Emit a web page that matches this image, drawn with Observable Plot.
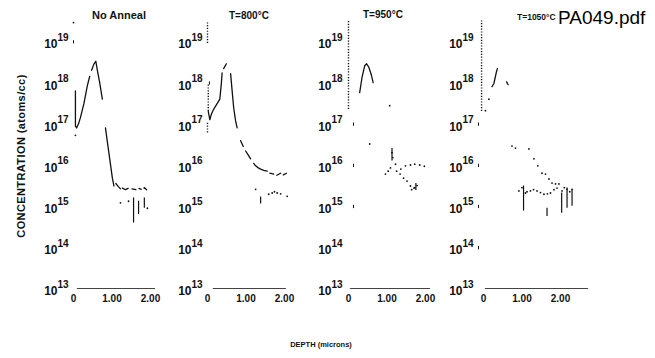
<!DOCTYPE html>
<html><head><meta charset="utf-8">
<script src="https://cdn.jsdelivr.net/npm/d3@7"></script>
<script src="https://cdn.jsdelivr.net/npm/@observablehq/plot@0.6"></script>
<style>
body{margin:0;background:#fff;}
#wrap{position:relative;width:655px;height:358px;overflow:hidden;font-family:"Liberation Sans",Arial,sans-serif;background:#fff;}
.lbl{position:absolute;font-weight:bold;color:#111;white-space:nowrap;line-height:1;}
</style></head><body><div id="wrap"></div>
<script>
// ---------- data ----------
const panelTitles = ["No Anneal", "T=800\u00b0C", "T=950\u00b0C", "T=1050\u00b0C"];
const decades = [13, 14, 15, 16, 17, 18, 19];
const xTickValues = [0, 1, 2];
const xTickLabels = ["0", "1.00", "2.00"];
const yAxisTitle = "CONCENTRATION (atoms/cc)";
const xAxisTitle = "DEPTH (microns)";
const fileLabel = "PA049.pdf";

// Panel 1: No Anneal  (depth in microns, log10 concentration)
const p1LineDepth = [0.05,0.05,0.08,0.13,0.18,0.27,0.36,0.42,null,0.47,0.53,0.58,0.62,0.68,0.75,null,0.83,0.92,1.01,1.05,null,1.10,1.16,1.22,null,1.27,1.35,1.42,null,1.52,1.62,null,1.70,1.76,null,1.84,1.90];
const p1LineLog   = [17.8,16.95,16.9,17.0,17.15,17.49,17.93,18.15,null,18.3,18.45,18.52,18.3,18.0,17.6,null,16.9,16.29,15.68,15.49,null,15.55,15.48,15.42,null,15.44,15.40,15.43,null,15.42,15.40,null,15.43,15.41,null,15.45,15.40];
const p1DotDepth = [0.0, 0.05, 1.22, 1.43, 1.92, 1.84];
const p1DotLog   = [19.46, 16.72, 15.08, 15.12, 14.95, 15.44];
const p1SpikeDepth = [1.56, 1.69, 1.84];
const p1SpikeLo    = [14.59, 14.8, 14.95];
const p1SpikeHi    = [15.2, 15.12, 15.2];
const p1SurfDepth = [], p1SurfLo = [], p1SurfHi = [];
const p1TickMarks = [19];

// Panel 2: T=800°C
const p2SurfDepth = [0, 0.02, 0];
const p2SurfLo    = [18.95, 17.3, 16.78];
const p2SurfHi    = [19.45, 17.98, 17.02];
const p2LineDepth = [0.02,0.06,0.09,0.13,0.17,0.25,0.32,0.36,0.38,null,0.42,0.49,null,0.60,0.64,0.68,0.73,0.77,null,0.86,0.93,null,0.99,1.06,1.12,null,1.20,1.25,1.32,1.38,1.46,1.55,null,1.62,1.72,null,1.80,1.90,null,1.97,2.05];
const p2LineLog   = [17.3,17.1,17.2,17.3,17.37,17.49,17.6,17.98,18.24,null,18.34,18.46,null,18.22,17.8,17.39,17.07,16.9,null,16.59,16.45,null,16.34,16.24,16.15,null,16.04,15.98,15.93,15.9,15.87,15.85,null,15.8,15.78,null,15.75,15.8,null,15.76,15.8];
const p2DotDepth = [1.25, 1.59, 1.68, 1.74, 1.81, 1.90, 2.07];
const p2DotLog   = [15.41, 15.29, 15.32, 15.35, 15.32, 15.30, 15.24];
const p2SpikeDepth = [1.38];
const p2SpikeLo    = [15.05];
const p2SpikeHi    = [15.22];
const p2TickMarks = [18];

// Panel 3: T=950°C
const p3SurfDepth = [0];
const p3SurfLo    = [17.35];
const p3SurfHi    = [19.5];
const p3LineDepth = [0.29, 0.35, 0.42, 0.47, 0.53, 0.59, 0.64];
const p3LineLog   = [17.76, 18.12, 18.41, 18.46, 18.37, 18.2, 18.0];
const p3DotDepth = [1.07,0.55,1.13,1.15,1.22,1.09,0.96,1.03,1.25,1.34,1.43,1.52,1.61,1.70,1.48,1.61,1.72,1.85,1.97,1.64,1.72,1.78,1.36];
const p3DotLog   = [17.44,16.51,16.3,16.18,16.02,15.93,15.78,15.85,15.85,15.78,15.68,15.61,15.49,15.44,15.98,16.0,16.02,16.0,15.97,15.4,15.45,15.5,15.9];
const p3SpikeDepth = [1.13, 1.75];
const p3SpikeLo    = [16.1, 15.38];
const p3SpikeHi    = [16.4, 15.55];
const p3TickMarks = [17, 16, 15];

// Panel 4: T=1050°C
const p4SurfDepth = [-0.05];
const p4SurfLo    = [17.3];
const p4SurfHi    = [19.5];
const p4LineDepth = [0.22, 0.27, 0.33, 0.36, null, 0.60, 0.64];
const p4LineLog   = [17.9, 17.98, 18.24, 18.34, null, 18.02, 17.95];
const p4DotDepth = [0.05,0.14,0.74,0.83,1.18,1.31,1.41,1.52,1.61,1.70,1.78,1.87,1.96,0.92,1.09,1.22,1.39,1.57,1.74,1.91,2.04,2.17,2.30,1.0,1.13,1.30,1.48,1.66,1.83,2.1,2.24];
const p4DotLog   = [17.32,17.6,16.46,16.41,16.39,16.15,15.98,15.8,15.78,15.66,15.56,15.54,15.54,15.37,15.32,15.37,15.37,15.29,15.32,15.44,15.37,15.41,15.41,15.45,15.35,15.4,15.33,15.3,15.4,15.45,15.35];
const p4SpikeDepth = [1.04, 1.65, 2.03, 2.17, 2.30];
const p4SpikeLo    = [14.88, 14.75, 14.83, 14.95, 15.0];
const p4SpikeHi    = [15.49, 14.95, 15.32, 15.44, 15.4];
const p4TickMarks = [17, 16, 15, 14];

// ---------- layout ----------
const PX = 38.5;             // pixels per micron
const ML = 45;
const ink = "#111";
const panels = [
  {origin: 73,  xMax: 2.3, base: [0.10, 2.13], tickX: 0.0,  lineD: p1LineDepth, lineL: p1LineLog, dotD: p1DotDepth, dotL: p1DotLog, spD: p1SpikeDepth, spLo: p1SpikeLo, spHi: p1SpikeHi, sfD: p1SurfDepth, sfLo: p1SurfLo, sfHi: p1SurfHi, marks: p1TickMarks, shift: 0},
  {origin: 207, xMax: 2.3, base: [0.15, 2.05], tickX: 0.05, lineD: p2LineDepth, lineL: p2LineLog, dotD: p2DotDepth, dotL: p2DotLog, spD: p2SpikeDepth, spLo: p2SpikeLo, spHi: p2SpikeHi, sfD: p2SurfDepth, sfLo: p2SurfLo, sfHi: p2SurfHi, marks: p2TickMarks, shift: 0},
  {origin: 348, xMax: 2.3, base: [0.05, 2.13], tickX: 0.13, lineD: p3LineDepth, lineL: p3LineLog, dotD: p3DotDepth, dotL: p3DotLog, spD: p3SpikeDepth, spLo: p3SpikeLo, spHi: p3SpikeHi, sfD: p3SurfDepth, sfLo: p3SurfLo, sfHi: p3SurfHi, marks: p3TickMarks, shift: -1},
  {origin: 483, xMax: 2.8, base: [0.05, 2.73], tickX: -0.13, lineD: p4LineDepth, lineL: p4LineLog, dotD: p4DotDepth, dotL: p4DotLog, spD: p4SpikeDepth, spLo: p4SpikeLo, spHi: p4SpikeHi, sfD: p4SurfDepth, sfLo: p4SurfLo, sfHi: p4SurfHi, marks: p4TickMarks, shift: -5}
];

const wrap = document.getElementById("wrap");
const num = v => (v == null ? NaN : v);

panels.forEach((p, i) => {
  const line = p.lineD.map((d, k) => ({d: num(d), c: p.lineL[k] == null ? NaN : 10 ** p.lineL[k]}));
  const dots = p.dotD.map((d, k) => ({d, c: 10 ** p.dotL[k]}));
  const spikes = p.spD.map((d, k) => ({d, lo: 10 ** p.spLo[k], hi: 10 ** p.spHi[k]}));
  const surf = p.sfD.map((d, k) => ({d, lo: 10 ** p.sfLo[k], hi: 10 ** p.sfHi[k]}));
  const W = Math.round(ML + p.xMax * PX + 5);
  const svg = Plot.plot({
    width: W, height: 358,
    marginLeft: ML, marginRight: 5, marginTop: 0, marginBottom: 0,
    x: {domain: [0, p.xMax], range: [ML, ML + p.xMax * PX], axis: null},
    y: {type: "log", domain: [1e13, 1e19], range: [288, 41], axis: null},
    style: {background: "transparent", overflow: "visible", fontFamily: "Liberation Sans, Arial, sans-serif"},
    marks: [
      Plot.ruleY([1e13], {x1: p.base[0], x2: p.base[1], stroke: "#444", strokeWidth: 1}),
      Plot.text(decades, {x: 0, y: d => 10 ** d, text: () => "10", textAnchor: "end", dx: -16 + p.shift, dy: 3, fontSize: 12, fontWeight: "bold", fill: ink}),
      Plot.text(decades, {x: 0, y: d => 10 ** d, text: d => String(d), textAnchor: "start", dx: -16 + p.shift, dy: -4, fontSize: 10, fontWeight: "bold", fill: ink}),
      Plot.ruleX(p.marks, {x: () => p.tickX, y1: d => 10 ** (d - 0.06), y2: d => 10 ** (d + 0.02), stroke: ink, strokeWidth: 1}),
      Plot.text(xTickValues, {x: d => d, y: 1e13, text: (d, k) => xTickLabels[k], dy: 10, fontSize: 10, fontWeight: "bold", fill: ink}),
      Plot.ruleX(surf, {x: "d", y1: "lo", y2: "hi", stroke: ink, strokeWidth: 1.4, strokeDasharray: "1.2,1.6"}),
      Plot.line(line, {x: "d", y: "c", stroke: ink, strokeWidth: 1.3}),
      Plot.ruleX(spikes, {x: "d", y1: "lo", y2: "hi", stroke: ink, strokeWidth: 1.2}),
      Plot.dot(dots, {x: "d", y: "c", r: 0.9, fill: ink, stroke: "none"})
    ]
  });
  svg.style.position = "absolute";
  svg.style.left = (p.origin - ML) + "px";
  svg.style.top = "0px";
  wrap.appendChild(svg);
});

// titles
const titlePos = [[92, 10, 11], [229, 11, 10], [363, 10, 10], [517, 13, 8.5]];
panelTitles.forEach((t, i) => {
  const el = document.createElement("div");
  el.className = "lbl";
  el.textContent = t;
  el.style.left = titlePos[i][0] + "px";
  el.style.top = titlePos[i][1] + "px";
  el.style.fontSize = titlePos[i][2] + "px";
  wrap.appendChild(el);
});
const f = document.createElement("div");
f.className = "lbl";
f.style.fontWeight = "normal";
f.style.fontSize = "19px";
f.style.left = "558px";
f.style.top = "8px";
f.style.color = "#000";
f.textContent = fileLabel;
wrap.appendChild(f);

const yt = document.createElement("div");
yt.className = "lbl";
yt.style.fontSize = "11px";
yt.style.letterSpacing = "0.4px";
yt.style.left = "21px";
yt.style.top = "156px";
yt.style.transform = "translate(-50%,-50%) rotate(-90deg)";
yt.textContent = yAxisTitle;
wrap.appendChild(yt);

const xt = document.createElement("div");
xt.className = "lbl";
xt.style.fontSize = "7.5px";
xt.style.left = "321px";
xt.style.top = "345px";
xt.style.transform = "translate(-50%,-50%)";
xt.textContent = xAxisTitle;
wrap.appendChild(xt);
</script>
</body></html>
